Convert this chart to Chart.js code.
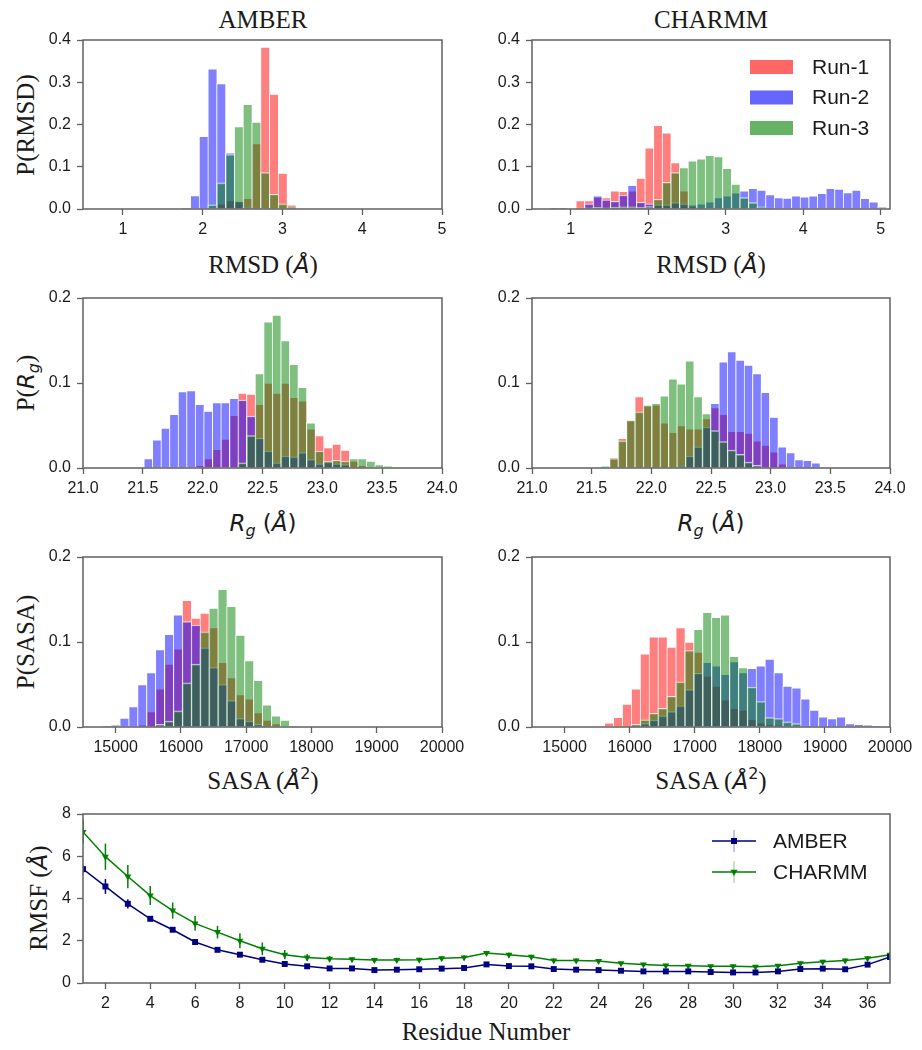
<!DOCTYPE html>
<html>
<head>
<meta charset="utf-8">
<script src="https://cdn.jsdelivr.net/npm/chart.js@4.4.1/dist/chart.umd.min.js"></script>
<style>
  body { margin: 0; background: #fff; }
  #fig { position: relative; width: 922px; height: 1050px; overflow: hidden; background: #fff; }
  #fig canvas { position: absolute; }
  .lbl { position: absolute; transform: translate(-50%, -50%); white-space: nowrap;
         font-family: "Liberation Serif", "Times New Roman", serif; font-size: 25px; line-height: 1; color: #1a1a1a; }
  .rot { transform: translate(-50%, -50%) rotate(-90deg); }
  .m { font-family: "DejaVu Sans", sans-serif; font-style: italic; font-size: 23px; }
  .mu { font-family: "DejaVu Sans", sans-serif; font-size: 23px; }
  .sub { font-size: 16px; position: relative; top: 0.3em; }
  .sup { font-size: 16px; position: relative; top: -0.6em; }
</style>
</head>
<body>
<div id="fig">
  <div class="lbl" style="left:263px;top:19px">AMBER</div>
  <div class="lbl" style="left:711px;top:19px">CHARMM</div>

  <div class="lbl" style="left:263px;top:264px">RMSD (<span class="m">Å</span>)</div>
  <div class="lbl" style="left:711px;top:264px">RMSD (<span class="m">Å</span>)</div>
  <div class="lbl" style="left:263px;top:522px"><span class="m">R</span><span class="m sub">g</span><span class="mu"> (</span><span class="m">Å</span><span class="mu">)</span></div>
  <div class="lbl" style="left:711px;top:522px"><span class="m">R</span><span class="m sub">g</span><span class="mu"> (</span><span class="m">Å</span><span class="mu">)</span></div>
  <div class="lbl" style="left:263px;top:780px">SASA (<span class="m">Å</span><span class="mu sup">2</span>)</div>
  <div class="lbl" style="left:711px;top:780px">SASA (<span class="m">Å</span><span class="mu sup">2</span>)</div>
  <div class="lbl" style="left:486px;top:1031px">Residue Number</div>

  <div class="lbl rot" style="left:25px;top:125px">P(RMSD)</div>
  <div class="lbl rot" style="left:25px;top:383px">P(<span class="m">R</span><span class="m sub">g</span>)</div>
  <div class="lbl rot" style="left:25px;top:642px">P(SASA)</div>
  <div class="lbl rot" style="left:38px;top:898px">RMSF (<span class="m">Å</span>)</div>
</div>

<script>
// ---------------- data ----------------
const runLabels = ['Run-1', 'Run-2', 'Run-3'];

// AMBER RMSD histogram (bin centres, probability per run)
const rmsdAmberBins = [1.79, 1.90, 2.01, 2.12, 2.23, 2.34, 2.45, 2.56, 2.67, 2.78, 2.89, 3.00, 3.11];
const rmsdAmberRun1 = [0, 0, 0, 0, 0.012, 0.02, 0.02, 0.025, 0.155, 0.383, 0.272, 0.085, 0.01];
const rmsdAmberRun2 = [0.002, 0.032, 0.172, 0.332, 0.297, 0.133, 0.018, 0.004, 0.002, 0, 0, 0, 0];
const rmsdAmberRun3 = [0, 0, 0, 0.01, 0.062, 0.129, 0.195, 0.248, 0.206, 0.086, 0.035, 0.012, 0.005];

// CHARMM RMSD histogram
const rmsdCharmmBins = [0.676, 0.787, 0.898, 1.010, 1.121, 1.232, 1.343, 1.455, 1.566, 1.677, 1.789, 1.900, 2.011, 2.122,
  2.234, 2.345, 2.456, 2.568, 2.679, 2.790, 2.902, 3.013, 3.124, 3.235, 3.347, 3.458, 3.569, 3.681, 3.792, 3.903,
  4.014, 4.126, 4.237, 4.348, 4.459, 4.571, 4.682, 4.793, 4.905, 5.016];
const rmsdCharmmRun1 = [0, 0, 0, 0, 0.02, 0.02, 0.028, 0.027, 0.043, 0.042, 0.043, 0.073, 0.145, 0.198, 0.18, 0.11, 0.043,
  0.005, 0.002, 0, 0, 0, 0, 0, 0, 0, 0, 0, 0, 0, 0, 0, 0, 0, 0, 0, 0, 0, 0, 0];
const rmsdCharmmRun2 = [0.001, 0.002, 0.002, 0, 0.002, 0.012, 0.031, 0.022, 0.018, 0.033, 0.056, 0.016, 0.012, 0.01, 0.01,
  0.015, 0.012, 0.01, 0.012, 0.017, 0.027, 0.031, 0.038, 0.043, 0.049, 0.045, 0.034, 0.027, 0.026, 0.031, 0.029, 0.031,
  0.037, 0.049, 0.047, 0.039, 0.045, 0.025, 0.017, 0.004];
const rmsdCharmmRun3 = [0.001, 0.002, 0.002, 0.001, 0.002, 0.003, 0.004, 0.003, 0.004, 0.005, 0.005, 0.004, 0.006, 0.023,
  0.063, 0.086, 0.098, 0.114, 0.119, 0.127, 0.124, 0.096, 0.059, 0.027, 0.015, 0.005, 0.002, 0, 0, 0, 0, 0, 0, 0, 0, 0,
  0, 0, 0, 0];

// AMBER Rg histogram
const rgAmberBins = [21.544, 21.615, 21.687, 21.758, 21.830, 21.901, 21.973, 22.044, 22.116, 22.187, 22.259, 22.330,
  22.402, 22.473, 22.545, 22.616, 22.688, 22.759, 22.831, 22.902, 22.974, 23.045, 23.117, 23.188, 23.260, 23.331,
  23.403, 23.474, 23.546];
const rgAmberRun1 = [0, 0, 0, 0, 0, 0, 0.003, 0.011, 0.022, 0.034, 0.062, 0.088, 0.087, 0.075, 0.1, 0.088, 0.1, 0.083,
  0.079, 0.046, 0.038, 0.024, 0.028, 0.021, 0.008, 0.003, 0, 0, 0];
const rgAmberRun2 = [0.011, 0.033, 0.047, 0.063, 0.09, 0.091, 0.075, 0.067, 0.077, 0.077, 0.082, 0.08, 0.061, 0.035, 0.02,
  0.006, 0.014, 0.013, 0.018, 0.01, 0.005, 0.007, 0.005, 0.004, 0, 0, 0, 0, 0];
const rgAmberRun3 = [0, 0, 0, 0, 0, 0, 0, 0, 0, 0, 0, 0.006, 0.038, 0.111, 0.172, 0.18, 0.15, 0.122, 0.095, 0.053, 0.02,
  0.008, 0.009, 0.008, 0.011, 0.011, 0.008, 0.004, 0.002];

// CHARMM Rg histogram
const rgCharmmBins = [21.614, 21.684, 21.755, 21.825, 21.896, 21.966, 22.037, 22.107, 22.178, 22.248, 22.319, 22.389,
  22.460, 22.530, 22.601, 22.671, 22.742, 22.812, 22.883, 22.953, 23.024, 23.094, 23.165, 23.235, 23.306, 23.376];
const rgCharmmRun1 = [0, 0.0125, 0.035, 0.057, 0.084, 0.073, 0.074, 0.053, 0.042, 0.05, 0.046, 0.046, 0.058, 0.071, 0.063,
  0.043, 0.043, 0.041, 0.032, 0.027, 0.019, 0.005, 0, 0, 0, 0];
const rgCharmmRun2 = [0, 0, 0, 0, 0, 0, 0, 0, 0, 0.002, 0.014, 0.025, 0.048, 0.076, 0.125, 0.137, 0.127, 0.121, 0.111,
  0.089, 0.06, 0.025, 0.018, 0.01, 0.009, 0.006];
const rgCharmmRun3 = [0.002, 0.011, 0.032, 0.056, 0.066, 0.074, 0.076, 0.085, 0.105, 0.099, 0.126, 0.084, 0.064, 0.044,
  0.031, 0.021, 0.016, 0.007, 0.003, 0, 0, 0, 0, 0, 0, 0];

// AMBER SASA histogram
const sasaAmberBins = [14858, 14995, 15131, 15268, 15404, 15541, 15677, 15814, 15950, 16087, 16223, 16360, 16496, 16633,
  16769, 16906, 17042, 17179, 17315, 17452, 17588, 17725];
const sasaAmberRun1 = [0, 0, 0, 0, 0.002, 0.018, 0.045, 0.074, 0.092, 0.149, 0.128, 0.134, 0.117, 0.076, 0.058, 0.038,
  0.033, 0.017, 0.008, 0.004, 0, 0];
const sasaAmberRun2 = [0.001, 0.002, 0.0104, 0.024, 0.05, 0.064, 0.091, 0.109, 0.132, 0.124, 0.12, 0.093, 0.07, 0.05,
  0.031, 0.01, 0.007, 0.003, 0, 0, 0, 0];
const sasaAmberRun3 = [0, 0, 0, 0, 0, 0, 0.003, 0.007, 0.019, 0.052, 0.074, 0.112, 0.14, 0.162, 0.142, 0.108, 0.078,
  0.055, 0.026, 0.013, 0.008, 0.001];

// CHARMM SASA histogram
const sasaCharmmBins = [15681, 15818, 15955, 16092, 16229, 16366, 16503, 16640, 16777, 16914, 17051, 17188, 17325,
  17462, 17599, 17736, 17873, 18010, 18147, 18284, 18421, 18558, 18695, 18832, 18969, 19106, 19243, 19380, 19517,
  19654, 19791];
const sasaCharmmRun1 = [0.005, 0.0115, 0.027, 0.045, 0.086, 0.106, 0.106, 0.094, 0.117, 0.1, 0.088, 0.06, 0.048, 0.032,
  0.022, 0.02, 0.009, 0.005, 0.003, 0.002, 0.001, 0, 0, 0, 0, 0, 0, 0, 0, 0, 0];
const sasaCharmmRun2 = [0, 0, 0, 0.001, 0.004, 0.008, 0.013, 0.018, 0.025, 0.044, 0.063, 0.076, 0.072, 0.062, 0.077,
  0.064, 0.069, 0.072, 0.08, 0.064, 0.048, 0.046, 0.033, 0.02, 0.012, 0.01, 0.012, 0.004, 0.003, 0.002, 0.001];
const sasaCharmmRun3 = [0, 0, 0.001, 0.003, 0.0085, 0.016, 0.022, 0.036, 0.053, 0.09, 0.115, 0.135, 0.129, 0.132, 0.083,
  0.07, 0.047, 0.03, 0.011, 0.01, 0.006, 0.004, 0.001, 0, 0, 0, 0, 0, 0, 0, 0];

// per-residue RMSF (mean and error)
const residues = [1, 2, 3, 4, 5, 6, 7, 8, 9, 10, 11, 12, 13, 14, 15, 16, 17, 18, 19, 20, 21, 22, 23, 24, 25, 26, 27,
  28, 29, 30, 31, 32, 33, 34, 35, 36, 37];
const amberRmsf = [5.39, 4.57, 3.75, 3.04, 2.52, 1.94, 1.57, 1.34, 1.1, 0.9, 0.79, 0.69, 0.69, 0.61, 0.63, 0.65, 0.68,
  0.71, 0.88, 0.8, 0.79, 0.66, 0.63, 0.61, 0.58, 0.55, 0.55, 0.55, 0.52, 0.5, 0.5, 0.55, 0.66, 0.68, 0.65, 0.87, 1.23];
const amberErr = [0.2, 0.35, 0.22, 0.13, 0.09, 0.08, 0.07, 0.07, 0.06, 0.06, 0.05, 0.05, 0.05, 0.05, 0.05, 0.05, 0.05,
  0.05, 0.06, 0.05, 0.05, 0.05, 0.04, 0.04, 0.04, 0.04, 0.04, 0.04, 0.04, 0.04, 0.04, 0.04, 0.05, 0.05, 0.05, 0.06, 0.08];
const charmmRmsf = [7.15, 5.98, 5.04, 4.14, 3.43, 2.82, 2.41, 2.0, 1.62, 1.34, 1.21, 1.15, 1.12, 1.09, 1.09, 1.1, 1.17,
  1.21, 1.42, 1.34, 1.24, 1.07, 1.07, 1.04, 0.94, 0.88, 0.83, 0.82, 0.79, 0.79, 0.77, 0.82, 0.94, 1.01, 1.06, 1.17, 1.34];
const charmmErr = [0.55, 0.62, 0.55, 0.45, 0.38, 0.35, 0.3, 0.35, 0.3, 0.22, 0.16, 0.13, 0.11, 0.1, 0.1, 0.1, 0.1, 0.1,
  0.1, 0.1, 0.1, 0.09, 0.09, 0.09, 0.08, 0.08, 0.08, 0.08, 0.08, 0.08, 0.08, 0.08, 0.08, 0.09, 0.1, 0.1, 0.12];

// tick labels
const rmsdTicks = [1, 2, 3, 4, 5];
const rgTicks = [21.0, 21.5, 22.0, 22.5, 23.0, 23.5, 24.0];
const sasaTicks = [15000, 16000, 17000, 18000, 19000, 20000];
const probTicksTop = [0, 0.1, 0.2, 0.3, 0.4];
const probTicks = [0, 0.1, 0.2];
const residueTicks = [2, 4, 6, 8, 10, 12, 14, 16, 18, 20, 22, 24, 26, 28, 30, 32, 34, 36];
const rmsfTicks = [0, 2, 4, 6, 8];

// ---------------- styling ----------------
const TXT = '#1a1a1a';
const SPINE = '#606060';
const SANS = '"Liberation Sans", Arial, sans-serif';
const runFill = ['rgba(255,0,0,0.5)', 'rgba(0,0,255,0.5)', 'rgba(0,128,0,0.5)'];
const runSwatch = ['rgba(255,0,0,0.6)', 'rgba(0,0,255,0.6)', 'rgba(0,128,0,0.6)'];

Chart.defaults.font.family = SANS;
Chart.defaults.color = TXT;

// margins around each plot box (y tick area, top, right, x tick area)
const ML = 70, MT = 12, MR = 30, MB = 36;
const fig = document.getElementById('fig');

function makeCanvas(box) {
  const c = document.createElement('canvas');
  const w = box.x1 - box.x0 + ML + MR;
  const h = box.y1 - box.y0 + MT + MB;
  c.width = w; c.height = h;
  c.style.left = (box.x0 - ML) + 'px';
  c.style.top = (box.y0 - MT) + 'px';
  c.style.width = w + 'px';
  c.style.height = h + 'px';
  fig.appendChild(c);
  return c;
}

const tickGrid = { display: true, drawOnChartArea: false, drawTicks: true, tickLength: 6, tickWidth: 1.3,
  tickColor: SPINE, offset: false };

function xAxis(min, max, ticks, fmt) {
  return {
    type: 'linear', min, max, offset: false,
    grid: tickGrid,
    border: { display: false },
    ticks: { padding: 5, color: TXT, font: { size: 16 }, maxRotation: 0, autoSkip: false, callback: fmt },
    afterBuildTicks: s => { s.ticks = ticks.map(v => ({ value: v })); },
    afterFit: s => { s.height = MB; s.paddingLeft = 0; s.paddingRight = 0; }
  };
}

function yAxis(max, ticks, fmt) {
  return {
    type: 'linear', min: 0, max,
    grid: tickGrid,
    border: { display: false },
    ticks: { padding: 6, color: TXT, font: { size: 16 }, autoSkip: false, callback: fmt },
    afterBuildTicks: s => { s.ticks = ticks.map(v => ({ value: v })); },
    afterFit: s => { s.width = ML; s.paddingTop = 0; s.paddingBottom = 0; }
  };
}

const frame = {
  id: 'frame',
  afterDatasetsDraw(chart) {
    const { ctx, chartArea: a } = chart;
    ctx.save();
    ctx.strokeStyle = SPINE;
    ctx.lineWidth = 1.5;
    ctx.strokeRect(a.left, a.top, a.right - a.left, a.bottom - a.top);
    ctx.restore();
  }
};

const runLegend = {
  id: 'runLegend',
  afterDraw(chart, args, opts) {
    if (!opts.show) return;
    const { ctx, chartArea: a } = chart;
    ctx.save();
    ctx.font = '21px ' + SANS;
    ctx.textBaseline = 'middle';
    runLabels.forEach((lab, i) => {
      const y = a.top + 27 + i * 30.5;
      ctx.fillStyle = runSwatch[i];
      ctx.fillRect(a.right - 140, y - 7, 43, 14);
      ctx.fillStyle = TXT;
      ctx.fillText(lab, a.right - 78, y + 1);
    });
    ctx.restore();
  }
};

function histChart(p) {
  const canvas = makeCanvas(p.box);
  const datasets = p.runs.map((vals, i) => ({
    label: runLabels[i],
    data: p.bins.map((x, j) => ({ x, y: vals[j] })),
    backgroundColor: runFill[i],
    borderColor: 'rgba(255,255,255,0.7)',
    borderWidth: { top: 1, left: 1, right: 0, bottom: 0 },
    order: 3 - i
  }));
  new Chart(canvas, {
    type: 'bar',
    data: { datasets },
    options: {
      responsive: false, animation: false, devicePixelRatio: 1, events: [],
      layout: { padding: { left: 0, top: MT, right: MR, bottom: 0 } },
      datasets: { bar: { grouped: false, barPercentage: 1, categoryPercentage: 1 } },
      scales: {
        x: xAxis(p.xMin, p.xMax, p.xTicks, p.xFmt),
        y: yAxis(p.yMax, p.yTicks, v => v.toFixed(1))
      },
      plugins: { legend: { display: false }, tooltip: { enabled: false }, runLegend: { show: !!p.legend } }
    },
    plugins: [frame, runLegend]
  });
}

const fmtInt = v => String(v);
const fmt1 = v => v.toFixed(1);

const panels = [
  { box: { x0: 83, y0: 40, x1: 442, y1: 209 }, bins: rmsdAmberBins, runs: [rmsdAmberRun1, rmsdAmberRun2, rmsdAmberRun3],
    xMin: 0.5, xMax: 5.0, xTicks: rmsdTicks, xFmt: fmtInt, yMax: 0.4, yTicks: probTicksTop },
  { box: { x0: 532, y0: 40, x1: 890, y1: 209 }, bins: rmsdCharmmBins, runs: [rmsdCharmmRun1, rmsdCharmmRun2, rmsdCharmmRun3],
    xMin: 0.5, xMax: 5.12, xTicks: rmsdTicks, xFmt: fmtInt, yMax: 0.4, yTicks: probTicksTop, legend: true },
  { box: { x0: 83, y0: 298, x1: 442, y1: 468 }, bins: rgAmberBins, runs: [rgAmberRun1, rgAmberRun2, rgAmberRun3],
    xMin: 21, xMax: 24, xTicks: rgTicks, xFmt: fmt1, yMax: 0.2, yTicks: probTicks },
  { box: { x0: 532, y0: 298, x1: 890, y1: 468 }, bins: rgCharmmBins, runs: [rgCharmmRun1, rgCharmmRun2, rgCharmmRun3],
    xMin: 21, xMax: 24, xTicks: rgTicks, xFmt: fmt1, yMax: 0.2, yTicks: probTicks },
  { box: { x0: 83, y0: 557, x1: 442, y1: 727 }, bins: sasaAmberBins, runs: [sasaAmberRun1, sasaAmberRun2, sasaAmberRun3],
    xMin: 14500, xMax: 20000, xTicks: sasaTicks, xFmt: fmtInt, yMax: 0.2, yTicks: probTicks },
  { box: { x0: 532, y0: 557, x1: 890, y1: 727 }, bins: sasaCharmmBins, runs: [sasaCharmmRun1, sasaCharmmRun2, sasaCharmmRun3],
    xMin: 14500, xMax: 20000, xTicks: sasaTicks, xFmt: fmtInt, yMax: 0.2, yTicks: probTicks }
];
panels.forEach(histChart);

// ---------------- RMSF line chart ----------------
const errorBars = {
  id: 'errorBars',
  afterDatasetsDraw(chart) {
    const { ctx, chartArea: a, scales: { x, y } } = chart;
    ctx.save();
    ctx.beginPath();
    ctx.rect(a.left, a.top, a.right - a.left, a.bottom - a.top);
    ctx.clip();
    chart.data.datasets.forEach(ds => {
      ctx.strokeStyle = ds.borderColor;
      ctx.lineWidth = 1.5;
      ds.data.forEach((pt, i) => {
        const px = x.getPixelForValue(pt.x);
        ctx.beginPath();
        ctx.moveTo(px, y.getPixelForValue(pt.y - ds.errors[i]));
        ctx.lineTo(px, y.getPixelForValue(pt.y + ds.errors[i]));
        ctx.stroke();
      });
    });
    ctx.restore();
  }
};

function drawMarker(ctx, style, x, y) {
  ctx.beginPath();
  if (style === 'rect') {
    ctx.rect(x - 3, y - 3, 6, 6);
  } else {
    ctx.moveTo(x - 3.6, y - 2.2);
    ctx.lineTo(x + 3.6, y - 2.2);
    ctx.lineTo(x, y + 4);
    ctx.closePath();
  }
  ctx.fill();
}

const rmsfLegend = {
  id: 'rmsfLegend',
  afterDraw(chart) {
    const { ctx, chartArea: a } = chart;
    ctx.save();
    ctx.font = '21px ' + SANS;
    ctx.textBaseline = 'middle';
    chart.data.datasets.forEach((ds, i) => {
      const y = a.top + 27 + i * 31;
      const x0 = a.right - 178, x1 = a.right - 134, xm = (x0 + x1) / 2;
      ctx.strokeStyle = ds.borderColor;
      ctx.fillStyle = ds.borderColor;
      ctx.lineWidth = 1.5;
      ctx.globalAlpha = 0.3;
      ctx.beginPath(); ctx.moveTo(xm, y - 11); ctx.lineTo(xm, y + 11); ctx.stroke();
      ctx.globalAlpha = 1;
      ctx.beginPath(); ctx.moveTo(x0, y); ctx.lineTo(x1, y); ctx.stroke();
      drawMarker(ctx, ds.pointStyle, xm, y);
      ctx.fillStyle = TXT;
      ctx.fillText(ds.label, a.right - 117, y + 1);
    });
    ctx.restore();
  }
};

const rmsfBox = { x0: 83, y0: 814, x1: 890, y1: 983 };
new Chart(makeCanvas(rmsfBox), {
  type: 'line',
  data: {
    datasets: [
      { label: 'AMBER', data: residues.map((r, i) => ({ x: r, y: amberRmsf[i] })), errors: amberErr,
        borderColor: '#000080', backgroundColor: '#000080', borderWidth: 1.5,
        pointStyle: 'rect', pointRadius: 4.2, pointBorderWidth: 0, tension: 0 },
      { label: 'CHARMM', data: residues.map((r, i) => ({ x: r, y: charmmRmsf[i] })), errors: charmmErr,
        borderColor: '#008000', backgroundColor: '#008000', borderWidth: 1.5,
        pointStyle: 'triangle', rotation: 180, pointRadius: 4, pointBorderWidth: 0, tension: 0 }
    ]
  },
  options: {
    responsive: false, animation: false, devicePixelRatio: 1, events: [],
    layout: { padding: { left: 0, top: MT, right: MR, bottom: 0 } },
    scales: {
      x: xAxis(1, 37, residueTicks, fmtInt),
      y: yAxis(8, rmsfTicks, fmtInt)
    },
    plugins: { legend: { display: false }, tooltip: { enabled: false } }
  },
  plugins: [errorBars, frame, rmsfLegend]
});
</script>
</body>
</html>
